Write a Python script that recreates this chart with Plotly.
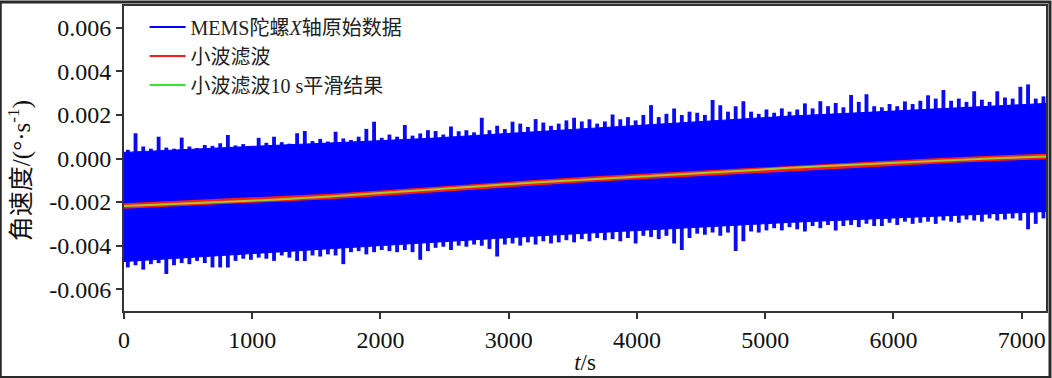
import plotly.graph_objects as go

# ---- data ----
# raw MEMS gyro X signal: the solid part of the band (edge of the dense trace)
band_t = [0, 400, 800, 1200, 1600, 2000, 2400, 2800, 3200, 3600,
          4000, 4400, 4800, 5200, 5600, 6000, 6400, 6800, 7200]
band_upper = [0.00028, 0.00040, 0.00050, 0.00061, 0.00071, 0.00082, 0.00093, 0.00108, 0.00123, 0.00138,
              0.00153, 0.00168, 0.00183, 0.00195, 0.00206, 0.00218, 0.00230, 0.00241, 0.00253]
band_lower = [-0.00473, -0.00458, -0.00443, -0.00428, -0.00413, -0.00398, -0.00383, -0.00370, -0.00356, -0.00343,
              -0.00330, -0.00316, -0.00303, -0.00293, -0.00283, -0.00273, -0.00263, -0.00253, -0.00243]

# raw signal: max / min reached in each 60 s bin (the spikes)
bin_t = list(range(30, 7200, 60))  # bin centres (s)
raw_upper = [
    0.00040, 0.00116, 0.00055, 0.00045, 0.00100, 0.00050, 0.00045, 0.00096, 0.00055, 0.00048,
    0.00062, 0.00058, 0.00070, 0.00108, 0.00060, 0.00066, 0.00058, 0.00095, 0.00072, 0.00100,
    0.00075, 0.00068, 0.00116, 0.00126, 0.00080, 0.00090, 0.00078, 0.00123, 0.00092, 0.00085,
    0.00100, 0.00136, 0.00169, 0.00095, 0.00110, 0.00100, 0.00154, 0.00105, 0.00115, 0.00130,
    0.00126, 0.00110, 0.00147, 0.00125, 0.00130, 0.00120, 0.00187, 0.00130, 0.00150, 0.00135,
    0.00169, 0.00160, 0.00145, 0.00181, 0.00165, 0.00150, 0.00160, 0.00175, 0.00187, 0.00170,
    0.00180, 0.00160, 0.00170, 0.00202, 0.00180, 0.00190, 0.00175, 0.00200, 0.00245, 0.00190,
    0.00205, 0.00230, 0.00200, 0.00215, 0.00210, 0.00200, 0.00268, 0.00245, 0.00215, 0.00240,
    0.00263, 0.00215, 0.00205, 0.00225, 0.00210, 0.00230, 0.00215, 0.00225, 0.00253, 0.00230,
    0.00263, 0.00240, 0.00255, 0.00235, 0.00291, 0.00260, 0.00295, 0.00240, 0.00235, 0.00250,
    0.00240, 0.00262, 0.00250, 0.00265, 0.00290, 0.00275, 0.00314, 0.00265, 0.00275, 0.00260,
    0.00309, 0.00270, 0.00260, 0.00309, 0.00280, 0.00275, 0.00329, 0.00340, 0.00275, 0.00285,
]
raw_lower = [
    -0.00500, -0.00490, -0.00510, -0.00485, -0.00480, -0.00530, -0.00490, -0.00480, -0.00485, -0.00470,
    -0.00480, -0.00500, -0.00500, -0.00500, -0.00470, -0.00460, -0.00465, -0.00455, -0.00460, -0.00470,
    -0.00445, -0.00455, -0.00470, -0.00470, -0.00445, -0.00450, -0.00440, -0.00445, -0.00485, -0.00430,
    -0.00425, -0.00440, -0.00430, -0.00420, -0.00425, -0.00430, -0.00420, -0.00430, -0.00465, -0.00425,
    -0.00410, -0.00405, -0.00420, -0.00400, -0.00405, -0.00395, -0.00400, -0.00415, -0.00450, -0.00395,
    -0.00390, -0.00400, -0.00385, -0.00395, -0.00380, -0.00390, -0.00385, -0.00375, -0.00385, -0.00370,
    -0.00380, -0.00365, -0.00375, -0.00370, -0.00380, -0.00365, -0.00390, -0.00355, -0.00360, -0.00370,
    -0.00355, -0.00390, -0.00420, -0.00365, -0.00345, -0.00350, -0.00340, -0.00355, -0.00340, -0.00425,
    -0.00380, -0.00335, -0.00340, -0.00330, -0.00320, -0.00330, -0.00315, -0.00325, -0.00335, -0.00310,
    -0.00320, -0.00305, -0.00330, -0.00310, -0.00305, -0.00315, -0.00300, -0.00310, -0.00310, -0.00295,
    -0.00305, -0.00290, -0.00300, -0.00295, -0.00290, -0.00300, -0.00285, -0.00290, -0.00295, -0.00280,
    -0.00285, -0.00290, -0.00275, -0.00285, -0.00280, -0.00275, -0.00285, -0.00325, -0.00300, -0.00275,
]

# wavelet-filtered and 10 s smoothed curves
smooth_t = [0, 400, 800, 1200, 1600, 2000, 2400, 2800, 3200, 3600,
            4000, 4400, 4800, 5200, 5600, 6000, 6400, 6800, 7200]
wavelet_vals = [-0.00218, -0.00208, -0.00198, -0.00188, -0.00174, -0.00159, -0.00142, -0.00126,
                -0.00110, -0.00096, -0.00084, -0.00071, -0.00056, -0.00043, -0.00031, -0.00019,
                -0.00009, 0.00001, 0.00009]
smooth10_vals = [-0.00218, -0.00208, -0.00198, -0.00188, -0.00174, -0.00159, -0.00142, -0.00126,
                 -0.00110, -0.00096, -0.00084, -0.00071, -0.00056, -0.00043, -0.00031, -0.00019,
                 -0.00009, 0.00001, 0.00009]

x_ticks = [0, 1000, 2000, 3000, 4000, 5000, 6000, 7000]
y_ticks = [-0.006, -0.004, -0.002, 0.0, 0.002, 0.004, 0.006]
y_ticktext = ["-0.006", "-0.004", "-0.002", "0.000", "0.002", "0.004", "0.006"]

names = ["MEMS陀螺<i>X</i>轴原始数据", "小波滤波", "小波滤波10 s平滑结果"]
y_title = "角速度/(°·s<sup>-1</sup>)"
x_title = "<i>t</i>/s"

# ---- figure ----
SERIF = "Liberation Serif, Noto Sans CJK SC, serif"
BLUE = "#0000ff"
RED = "#ff1a1a"
GREEN = "#33e633"

fig = go.Figure()

# spikes of the raw trace
fig.add_trace(go.Bar(
    x=bin_t,
    base=raw_lower,
    y=[u - l for u, l in zip(raw_upper, raw_lower)],
    width=30,
    marker=dict(color="#0a0af5", line=dict(width=0)),
    showlegend=False, hoverinfo="skip",
))
# solid body of the raw trace
fig.add_trace(go.Scatter(x=band_t, y=band_lower, mode="lines",
                         line=dict(color=BLUE, width=1), showlegend=False, hoverinfo="skip"))
fig.add_trace(go.Scatter(x=band_t, y=band_upper, mode="lines", fill="tonexty",
                         fillcolor=BLUE, line=dict(color=BLUE, width=1),
                         showlegend=False, hoverinfo="skip"))
# legend entries
fig.add_trace(go.Scatter(x=[None], y=[None], mode="lines", name=names[0],
                         line=dict(color=BLUE, width=2)))
fig.add_trace(go.Scatter(x=smooth_t, y=wavelet_vals, mode="lines",
                         line=dict(color=RED, width=5.5), showlegend=False))
fig.add_trace(go.Scatter(x=smooth_t, y=smooth10_vals, mode="lines",
                         line=dict(color="#9acd32", width=2), showlegend=False))
fig.add_trace(go.Scatter(x=[None], y=[None], mode="lines", name=names[1],
                         line=dict(color=RED, width=2)))
fig.add_trace(go.Scatter(x=[None], y=[None], mode="lines", name=names[2],
                         line=dict(color=GREEN, width=2)))

axis_common = dict(
    showline=True, linecolor="#333333", linewidth=2, mirror=True,
    ticks="outside", ticklen=6, tickwidth=1.5, tickcolor="#333333",
    showgrid=False, zeroline=False,
    tickfont=dict(family=SERIF, size=24, color="#111111"),
)

fig.update_layout(
    width=1052, height=378,
    margin=dict(l=124, r=4, t=4, b=67),
    paper_bgcolor="white", plot_bgcolor="white",
    barmode="overlay",
    showlegend=True,
    legend=dict(x=0.0223, y=0.995, xanchor="left", yanchor="top", traceorder="normal",
                bgcolor="rgba(0,0,0,0)", tracegroupgap=0, itemwidth=36,
                font=dict(family=SERIF, size=20, color="#222222")),
    xaxis=dict(range=[0, 7190], tickvals=x_ticks, **axis_common,
               title=dict(text=x_title, standoff=2,
                          font=dict(family=SERIF, size=23, color="#111111"))),
    yaxis=dict(range=[-0.007, 0.007], tickvals=y_ticks, ticktext=y_ticktext, **axis_common),
    annotations=[dict(text=y_title, textangle=-90, xref="paper", yref="paper",
                      x=(20 - 124) / 924, y=(311 - 170) / 307, xanchor="center", yanchor="middle",
                      showarrow=False, font=dict(family=SERIF, size=25, color="#111111"))],
    shapes=[dict(type="rect", xref="paper", yref="paper",
                 x0=-124 / 924, x1=1 + 4 / 924, y0=-67 / 307, y1=1 + 4 / 307,
                 line=dict(color="#2a2a2a", width=3), fillcolor="rgba(0,0,0,0)",
                 layer="above")],
)

fig.write_html("out.html", config={"displayModeBar": False},
               post_script="document.body.style.margin='0';")
